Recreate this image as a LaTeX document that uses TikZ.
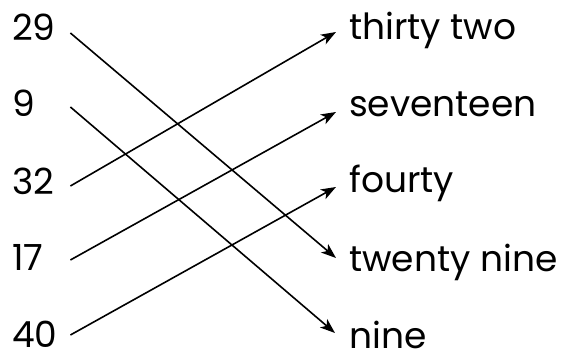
\documentclass[tikz,border=0pt]{standalone}
\usepackage{fontspec}
\setmainfont{Poppins}
\usetikzlibrary{arrows.meta,positioning}
\tikzset{
numlabel/.style={
  anchor=base west,
  inner sep=0pt,
  text width=58pt,
  text height=0pt,
  text depth=0pt,
  align=left,
  font=\fontsize{36}{42}\selectfont
},
wordlabel/.style={
  anchor=base west,
  inner sep=0pt,
  text height=0pt,
  text depth=0pt,
  font=\fontsize{36}{42}\selectfont
},
arrow/.style={
  -{Stealth[length=15pt,width=11pt,inset=4pt]},
  line width=1.6pt
}
}
\begin{document}
\begin{tikzpicture}[x=1pt,y=1pt]
  \useasboundingbox (0,0) rectangle (563,354);

  % Numbers
  \node[numlabel] (n29) at (12,313) {29};
  \node[numlabel] (n9)  at (12,237) {9};
  \node[numlabel] (n32) at (12,159) {32};
  \node[numlabel] (n17) at (12,83)  {17};
  \node[numlabel] (n40) at (12,7)   {40};

  % Words
  \node[wordlabel] (w32) at (349,314) {thirty two};
  \node[wordlabel] (w17) at (349,237) {seventeen};
  \node[wordlabel] (w40) at (349,161) {fourty};
  \node[wordlabel] (w29) at (349,82)  {twenty nine};
  \node[wordlabel] (w9)  at (349,6)   {nine};

  % Matches
  \draw[arrow] ([yshift=8pt]n29.east) -- ([xshift=-13pt,yshift=14pt]w29.west);
  \draw[arrow] ([yshift=10pt]n9.east) -- ([xshift=-14pt,yshift=15pt]w9.west);
  \draw[arrow] ([yshift=9pt]n32.east) -- ([xshift=-13pt,yshift=8pt]w32.west);
  \draw[arrow] ([yshift=11pt]n17.east) -- ([xshift=-13pt,yshift=5pt]w17.west);
  \draw[arrow] ([yshift=12pt]n40.east) -- ([xshift=-13pt,yshift=6pt]w40.west);
\end{tikzpicture}
\end{document}
